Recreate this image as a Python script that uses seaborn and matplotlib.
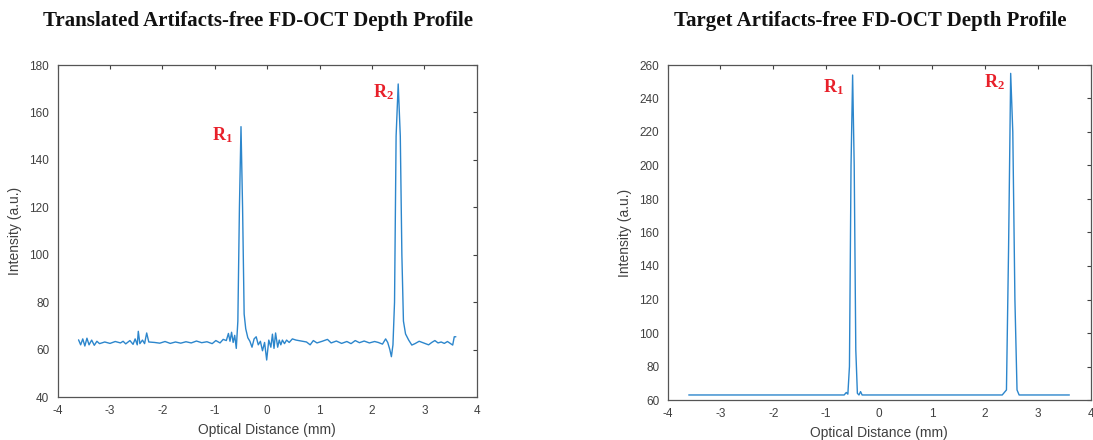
import matplotlib
matplotlib.use("Agg")
import matplotlib.pyplot as plt
import seaborn as sns
import pandas as pd

# ---------------- data ----------------
left_x = [-3.60, -3.56, -3.52, -3.48, -3.44, -3.40, -3.35, -3.30, -3.25, -3.20,
          -3.10, -3.00, -2.90, -2.80, -2.75, -2.70, -2.62, -2.56, -2.52, -2.48,
          -2.46, -2.43, -2.38, -2.34, -2.30, -2.26, -2.15, -2.05, -1.95, -1.85,
          -1.75, -1.65, -1.55, -1.45, -1.35, -1.25, -1.15, -1.05, -0.98, -0.90,
          -0.84, -0.78, -0.74, -0.71, -0.68, -0.65, -0.62, -0.59, -0.56, -0.53,
          -0.50, -0.47, -0.44, -0.41, -0.37, -0.33, -0.29, -0.25, -0.21, -0.17,
          -0.13, -0.09, -0.05, -0.01, 0.03, 0.07, 0.10, 0.13, 0.16, 0.20,
          0.23, 0.26, 0.29, 0.33, 0.37, 0.42, 0.48, 0.55, 0.65, 0.75,
          0.82, 0.88, 0.95, 1.05, 1.15, 1.22, 1.32, 1.42, 1.52, 1.60,
          1.68, 1.76, 1.85, 1.95, 2.05, 2.12, 2.20, 2.26, 2.30, 2.34,
          2.37, 2.40, 2.43, 2.46, 2.50, 2.54, 2.57, 2.60, 2.64, 2.70,
          2.76, 2.82, 2.90, 2.96, 3.02, 3.08, 3.14, 3.20, 3.26, 3.32,
          3.38, 3.44, 3.50, 3.54, 3.57, 3.60]
left_y = [64.1, 62.0, 64.5, 61.5, 64.8, 62.0, 64.0, 61.8, 63.5, 62.5,
          63.2, 62.6, 63.4, 62.8, 63.5, 62.4, 63.8, 62.2, 64.5, 62.0,
          67.7, 62.5, 64.0, 62.5, 67.0, 63.2, 63.0, 62.7, 63.4, 62.6,
          63.2, 62.7, 63.3, 62.8, 63.6, 62.9, 63.3, 62.5, 63.8, 62.8,
          64.3, 63.8, 66.8, 63.5, 67.3, 63.0, 66.0, 60.5, 72.0, 120.0,
          154.0, 120.0, 75.0, 68.8, 65.0, 63.5, 61.0, 64.5, 65.4, 62.0,
          63.5, 59.5, 63.0, 55.6, 64.0, 61.0, 66.5, 60.5, 67.0, 61.0,
          64.0, 62.0, 64.0, 62.5, 64.0, 63.0, 64.5, 64.0, 63.6, 63.2,
          62.0, 63.8, 62.8, 63.5, 64.3, 62.8, 63.6, 62.6, 63.4, 62.5,
          63.8, 62.9, 63.6, 62.8, 63.4, 63.0, 62.3, 64.5, 63.0, 60.0,
          57.0, 62.0, 80.0, 150.0, 172.0, 150.0, 100.0, 72.0, 66.6, 64.0,
          61.9, 62.5, 63.5, 63.0, 62.5, 62.0, 63.0, 63.8, 62.8, 63.2,
          62.6, 63.4, 62.5, 61.9, 65.4, 65.4]

right_x = [-3.60, -0.66, -0.62, -0.59, -0.56, -0.53, -0.50, -0.47, -0.44, -0.41,
           -0.38, -0.35, -0.32, 2.33, 2.37, 2.41, 2.45, 2.49, 2.53, 2.57,
           2.61, 2.65, 3.60]
right_y = [63.0, 63.0, 64.5, 63.5, 80.0, 200.0, 254.0, 200.0, 90.0, 64.0,
           63.0, 65.0, 63.0, 63.0, 64.5, 66.0, 150.0, 255.0, 220.0, 120.0,
           66.0, 63.0, 63.0]

titles = ["Translated Artifacts-free FD-OCT Depth Profile",
          "Target Artifacts-free FD-OCT Depth Profile"]
x_label = "Optical Distance (mm)"
y_label = "Intensity (a.u.)"
x_ticks = [-4, -3, -2, -1, 0, 1, 2, 3, 4]
left_yticks = [40, 60, 80, 100, 120, 140, 160, 180]
right_yticks = [60, 80, 100, 120, 140, 160, 180, 200, 220, 240, 260]
peak_labels = [r"$\mathbf{R_1}$", r"$\mathbf{R_2}$"]
left_label_pos = [(-0.86, 150.5), (2.21, 168.7)]
right_label_pos = [(-0.87, 246.9), (2.18, 249.9)]

# ---------------- style ----------------
sns.set_style("white")
plt.rcParams['font.family'] = ['Liberation Sans', 'DejaVu Sans']
plt.rcParams['mathtext.fontset'] = 'custom'
plt.rcParams['mathtext.rm'] = 'Liberation Serif'
plt.rcParams['mathtext.bf'] = 'Liberation Serif:bold'
plt.rcParams['mathtext.it'] = 'Liberation Serif:italic'

W, H = 1093, 440
fig = plt.figure(figsize=(W / 100, H / 100), dpi=100)

def frac_axes(l, t, r, b):
    return fig.add_axes([l / W, 1 - b / H, (r - l) / W, (b - t) / H])

ax1 = frac_axes(57.6, 65, 476.8, 397)
ax2 = frac_axes(667.6, 65, 1090.5, 400)

line_color = "#2c86cc"
axis_color = "#404040"

df_l = pd.DataFrame({"x": left_x, "y": left_y})
df_r = pd.DataFrame({"x": right_x, "y": right_y})
sns.lineplot(data=df_l, x="x", y="y", ax=ax1, color=line_color, linewidth=1.0,
             estimator=None, sort=False)
sns.lineplot(data=df_r, x="x", y="y", ax=ax2, color=line_color, linewidth=1.0,
             estimator=None, sort=False)

for ax, yt, ttl, pos in [(ax1, left_yticks, titles[0], left_label_pos),
                         (ax2, right_yticks, titles[1], right_label_pos)]:
    ax.set_xlim(-4, 4)
    ax.set_ylim(yt[0], yt[-1])
    ax.set_xticks(x_ticks)
    ax.set_yticks(yt)
    ax.set_xticklabels([str(v) for v in x_ticks])
    ax.set_xlabel(x_label, fontsize=10, color=axis_color, labelpad=4)
    ax.set_ylabel(y_label, fontsize=10, color=axis_color, labelpad=5)
    ax.tick_params(direction="in", length=3, width=0.8, colors=axis_color,
                   labelsize=8.5, top=True, right=True, pad=6)
    for s in ax.spines.values():
        s.set_visible(True)
        s.set_color("#555555")
        s.set_linewidth(0.9)
    bb = ax.get_position()
    fig.text((bb.x0 + bb.x1) / 2 - 0.008, 1 - 21 / H, ttl,
             ha="center", va="center", fontsize=15, fontweight="bold",
             family=['Liberation Serif', 'DejaVu Serif'], color="#111111")
    for lab, (px, py) in zip(peak_labels, pos):
        ax.text(px, py, lab, ha="center", va="center", fontsize=13,
                color="#e8202a")

fig.savefig("out.png", dpi=100)
